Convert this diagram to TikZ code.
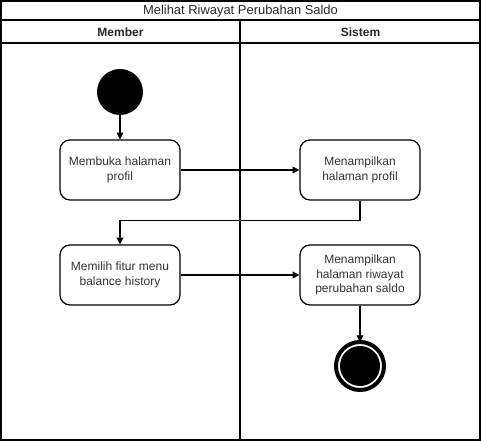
\documentclass[tikz,border=0pt]{standalone}
\usepackage{fontspec}
\setmainfont{Liberation Sans}
\usetikzlibrary{arrows.meta}
\begin{document}
\begin{tikzpicture}[x=0.75pt,y=-0.75pt,
  act/.style={draw=black,line width=0.9pt,rounded corners=7.5pt,minimum width=90pt,minimum height=45pt,align=center,font=\fontsize{9}{11}\selectfont,text=black!80,fill=white},
  flow/.style={draw=black,line width=0.9pt,-{Triangle[length=5pt,width=5pt]}},
  frame/.style={draw=black,line width=0.9pt},
  hdr/.style={font=\fontsize{9}{11}\selectfont\bfseries,text=black!85},
  ttl/.style={font=\fontsize{9.7}{11}\selectfont,text=black!85}]
\useasboundingbox (0,0) rectangle (481,441);
\draw[frame] (1,1) rectangle (480,440);
\draw[frame] (1,20) -- (480,20);
\draw[frame] (1,43) -- (480,43);
\draw[frame] (240,20) -- (240,440);
\node[ttl] (title) at (240.5,11) {Melihat Riwayat Perubahan Saldo};
\node[hdr] (member) at (120.5,32) {Member};
\node[hdr] (sistem) at (360.5,32) {Sistem};
\node[circle,fill=black,minimum size=34.5pt,inner sep=0pt] (start) at (120,92) {};
\node[act] (b1) at (120,170) {Membuka halaman\\profil};
\node[act] (b2) at (360,170) {Menampilkan\\halaman profil};
\node[act] (b3) at (120,275) {Memilih fitur menu\\balance history};
\node[act] (b4) at (360,275) {Menampilkan\\halaman riwayat\\perubahan saldo};
\node[circle,draw=black,line width=3pt,fill=white,minimum size=36pt,inner sep=0pt,outer sep=0pt] (end) at (360,366) {};
\node[circle,fill=black,minimum size=30pt,inner sep=0pt] (endin) at (360,366) {};
\draw[flow] (start) -- (b1);
\draw[flow] (b1) -- (b2);
\draw[flow] (b2.south) -- ++(0,20) -| (b3.north);
\draw[flow] (b3) -- (b4);
\draw[flow] (b4) -- (end);
\end{tikzpicture}
\end{document}
